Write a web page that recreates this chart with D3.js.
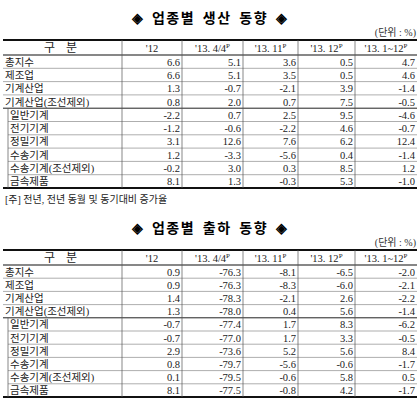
<!DOCTYPE html>
<html><head><meta charset="utf-8">
<script src="https://cdn.jsdelivr.net/npm/d3@7"></script>
<style>body{margin:0;background:#fff}</style>
</head><body><svg id="c" width="420" height="402"></svg>
<script>
const headers = ["구 분", "'12", "'13. 4/4", "'13. 11", "'13. 12", "'13. 1~12"];
const supP = [false, false, true, true, true, true];
const rowLabels = ["총지수", "제조업", "기계산업", "기계산업(조선제외)", "일반기계", "전기기계", "정밀기계", "수송기계", "수송기계(조선제외)", "금속제품"];
const prodValues = [
  [6.6, 5.1, 3.6, 0.5, 4.7], [6.6, 5.1, 3.5, 0.5, 4.6], [1.3, -0.7, -2.1, 3.9, -1.4],
  [0.8, 2.0, 0.7, 7.5, -0.5], [-2.2, 0.7, 2.5, 9.5, -4.6], [-1.2, -0.6, -2.2, 4.6, -0.7],
  [3.1, 12.6, 7.6, 6.2, 12.4], [1.2, -3.3, -5.6, 0.4, -1.4], [-0.2, 3.0, 0.3, 8.5, 1.2],
  [8.1, 1.3, -0.3, 5.3, -1.0]];
const shipValues = [
  [0.9, -76.3, -8.1, -6.5, -2.0], [0.9, -76.3, -8.3, -6.0, -2.1], [1.4, -78.3, -2.1, 2.6, -2.2],
  [1.3, -78.0, 0.4, 5.6, -1.4], [-0.7, -77.4, 1.7, 8.3, -6.2], [-0.7, -77.0, 1.7, 3.3, -0.5],
  [2.9, -73.6, 5.2, 5.6, 8.4], [0.8, -79.7, -5.6, -0.6, -1.7], [0.1, -79.5, -0.6, 5.8, 0.5],
  [8.1, -77.5, -0.8, 4.2, -1.7]];
const colEdges = [3, 122, 182, 243, 298, 355, 417];

const svg = d3.select("#c");
const font = "'Liberation Serif','Noto Sans CJK KR',serif";

function table(title, values, top, bottom) {
  svg.append("text").attr("x", 210).attr("y", top - 17).attr("text-anchor", "middle")
    .attr("font-family", "'Noto Sans CJK KR'").attr("font-weight", "bold").attr("font-size", 14)
    .attr("letter-spacing", 1.5).attr("word-spacing", 3)
    .text("◈ " + title + " ◈");
  svg.append("text").attr("x", 416).attr("y", top - 4).attr("text-anchor", "end")
    .attr("font-family", font).attr("font-size", 10).attr("fill", "#333").text("(단위 : %)");
  const headH = 15;
  const y = d3.scaleBand().domain(d3.range(rowLabels.length)).range([top + headH, bottom]);
  const g = svg.append("g").attr("font-family", font).attr("font-size", 10.5).attr("fill", "#222");
  headers.forEach((h, i) => {
    const t = g.append("text").attr("x", (colEdges[i] + colEdges[i + 1]) / 2).attr("y", top + 11.5)
      .attr("text-anchor", "middle").attr("font-size", i === 0 ? 12 : 10.5)
      .attr("letter-spacing", i === 0 ? 4 : 0).text(h);
    if (supP[i]) t.append("tspan").attr("font-size", 7).attr("dy", -4).text("P");
  });
  rowLabels.forEach((r, i) => {
    const cy = y(i) + y.bandwidth() / 2 + 4;
    g.append("text").attr("x", i >= 4 ? 10 : 5).attr("y", cy).text(r);
    values[i].forEach((v, j) => {
      g.append("text").attr("x", colEdges[j + 2] - 2).attr("y", cy).attr("text-anchor", "end").text(v.toFixed(1));
    });
    if (i > 0) svg.append("line").attr("x1", i >= 5 ? 8 : 3).attr("x2", 417).attr("y1", y(i)).attr("y2", y(i))
      .attr("stroke", i === 4 ? "#222" : "#777").attr("stroke-width", i === 4 ? 1 : 0.6);
  });
  svg.append("line").attr("x1", 3).attr("x2", 417).attr("y1", top).attr("y2", top).attr("stroke", "#111").attr("stroke-width", 2);
  svg.append("line").attr("x1", 3).attr("x2", 417).attr("y1", top + headH).attr("y2", top + headH).attr("stroke", "#111").attr("stroke-width", 1.2);
  svg.append("line").attr("x1", 3).attr("x2", 417).attr("y1", bottom).attr("y2", bottom).attr("stroke", "#111").attr("stroke-width", 2);
  colEdges.slice(1, -1).forEach(x => svg.append("line").attr("x1", x).attr("x2", x).attr("y1", top).attr("y2", bottom).attr("stroke", "#555").attr("stroke-width", 0.7));
  svg.append("line").attr("x1", 8).attr("x2", 8).attr("y1", y(4)).attr("y2", bottom).attr("stroke", "#555").attr("stroke-width", 0.7);
}

table("업종별 생산 동향", prodValues, 40, 188);
svg.append("text").attr("x", 5).attr("y", 203).attr("font-family", font).attr("font-size", 10).attr("fill", "#222")
  .text("[주] 전년, 전년 동월 및 동기대비 증가율");
table("업종별 출하 동향", shipValues, 250, 397);
</script></body></html>
